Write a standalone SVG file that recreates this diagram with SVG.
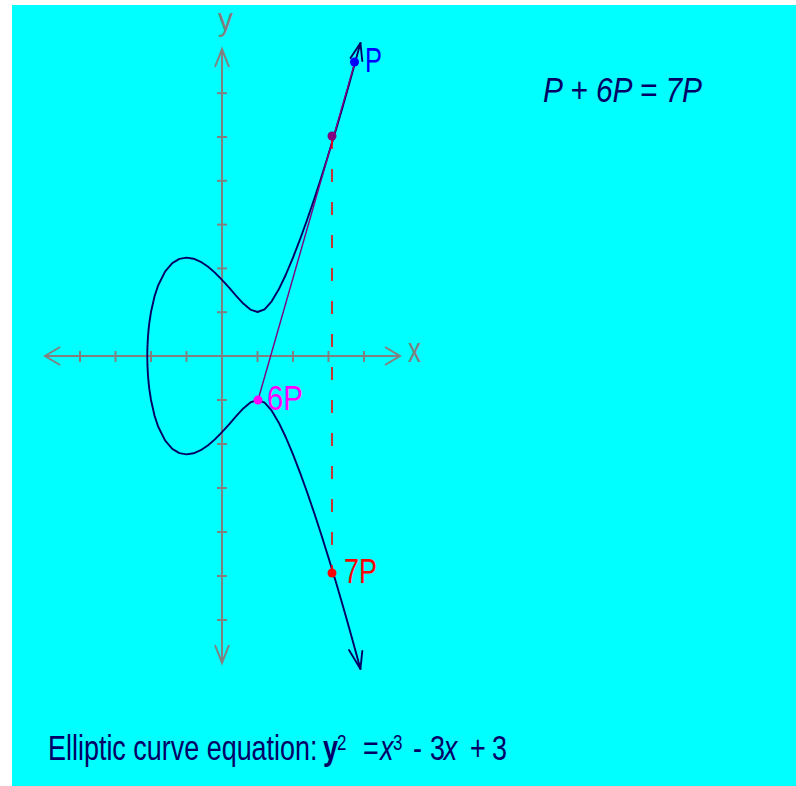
<svg xmlns="http://www.w3.org/2000/svg" width="796" height="786" viewBox="0 0 796 786">
<style>
text{font-family:"Liberation Sans",Arial,sans-serif;}
.ax{stroke:#808080;stroke-width:2;fill:none;}
.tk{stroke:#808080;stroke-width:2;}
.axl{fill:#808080;font-size:31px;}
.eq{fill:#000066;font-size:35px;}
.lbl{font-size:35px;}
.curve{stroke:#000066;stroke-width:1.9;fill:none;stroke-linejoin:round;stroke-linecap:round;}
</style>
<rect x="0" y="0" width="796" height="786" fill="#ffffff"/>
<rect x="12" y="5" width="784" height="781" fill="#00ffff"/>

<g id="axes">
  <line class="ax" x1="45" y1="356" x2="400" y2="356"/>
  <polyline class="ax" points="60,347 45,356 60,365"/>
  <polyline class="ax" points="385,347 400,356 385,365"/>
  <line class="ax" x1="222" y1="49" x2="222" y2="663"/>
  <polyline class="ax" points="215,67 222,49 229,67"/>
  <polyline class="ax" points="215,645 222,663 229,645"/>
  <g class="tk">
    <line x1="80" y1="351" x2="80" y2="362"/>
    <line x1="115.5" y1="351" x2="115.5" y2="362"/>
    <line x1="151" y1="351" x2="151" y2="362"/>
    <line x1="186.5" y1="351" x2="186.5" y2="362"/>
    <line x1="257.5" y1="351" x2="257.5" y2="362"/>
    <line x1="293" y1="351" x2="293" y2="362"/>
    <line x1="328.5" y1="351" x2="328.5" y2="362"/>
    <line x1="364" y1="351" x2="364" y2="362"/>
    <line x1="217" y1="93.2" x2="227" y2="93.2"/>
    <line x1="217" y1="137" x2="227" y2="137"/>
    <line x1="217" y1="180.8" x2="227" y2="180.8"/>
    <line x1="217" y1="224.6" x2="227" y2="224.6"/>
    <line x1="217" y1="268.4" x2="227" y2="268.4"/>
    <line x1="217" y1="312.2" x2="227" y2="312.2"/>
    <line x1="217" y1="400" x2="227" y2="400"/>
    <line x1="217" y1="444" x2="227" y2="444"/>
    <line x1="217" y1="488" x2="227" y2="488"/>
    <line x1="217" y1="532" x2="227" y2="532"/>
    <line x1="217" y1="576" x2="227" y2="576"/>
    <line x1="217" y1="620" x2="227" y2="620"/>
  </g>
  <text class="axl" x="408" y="362" style="font-size:35px" textLength="13" lengthAdjust="spacingAndGlyphs">x</text>
  <text class="axl" x="218" y="30" textLength="15" lengthAdjust="spacingAndGlyphs">y</text>
</g>

<g id="curve">
  <path class="curve" d="M360.45,669 L356.9,656 L349.8,630.3 L342.7,605.3 L335.6,581.1 L328.5,557.7 L321.4,535 L314.3,513.3 L307.2,492.5 L300.1,472.8 L293,454.4 L285.9,437.5 L278.8,422.7 L271.7,410.7 L264.6,402.7 L257.5,400 L250.4,402.4 L243.3,408.4 L236.2,416.1 L229.1,424.3 L222,432.2 L214.9,439.4 L207.8,445.5 L200.7,450.2 L193.6,453.3 L186.5,454.4 L179.4,453.1 L172.3,448.9 L165.2,440.7 L158.1,426.5 L154.55,415.7 L151,400 L149.2,388.2 L148.5,381.7 L147.8,372.6 L147.45,364.7 L147.34,360 L147.3,356 L147.34,352 L147.45,347.3 L147.8,339.4 L148.5,330.3 L149.2,323.8 L151,312 L154.55,296.3 L158.1,285.5 L165.2,271.3 L172.3,263.1 L179.4,258.9 L186.5,257.6 L193.6,258.7 L200.7,261.8 L207.8,266.5 L214.9,272.6 L222,279.8 L229.1,287.7 L236.2,295.9 L243.3,303.6 L250.4,309.6 L257.5,312 L264.6,309.3 L271.7,301.3 L278.8,289.3 L285.9,274.5 L293,257.6 L300.1,239.2 L307.2,219.5 L314.3,198.7 L321.4,177 L328.5,154.3 L335.6,130.9 L342.7,106.7 L349.8,81.7 L356.9,56 L360.45,43"/>
  <polyline class="curve" points="350.5,58 360.45,43 362.3,61"/>
  <polyline class="curve" points="349,650 360.45,669 362.3,651"/>
</g>

<g id="connectors">
  <line x1="258" y1="400" x2="355" y2="62" stroke="#800080" stroke-width="1.4"/>
  <line x1="332" y1="136" x2="332" y2="573" stroke="#ff0000" stroke-width="1.6" stroke-dasharray="13 20"/>
</g>

<g id="node-P">
  <circle cx="354.5" cy="62" r="4.5" fill="#0000ff"/>
  <text class="lbl" x="365" y="72" fill="#0000ff" textLength="17" lengthAdjust="spacingAndGlyphs">P</text>
</g>
<g id="node-R">
  <circle cx="332" cy="136" r="4.5" fill="#800080"/>
</g>
<g id="node-6P">
  <circle cx="258" cy="400" r="4.5" fill="#ff00ff"/>
  <text class="lbl" x="267" y="410" fill="#ff00ff" textLength="36" lengthAdjust="spacingAndGlyphs">6P</text>
</g>
<g id="node-7P">
  <circle cx="332" cy="573" r="4.5" fill="#ff0000"/>
  <text class="lbl" x="344" y="583" fill="#ff0000" textLength="33" lengthAdjust="spacingAndGlyphs">7P</text>
</g>

<g id="sum-label">
  <text class="eq" x="543" y="102" font-style="italic" textLength="159" lengthAdjust="spacingAndGlyphs">P + 6P = 7P</text>
</g>

<g id="equation">
  <text class="eq" transform="translate(48,760) scale(0.77,1)"><tspan x="0" y="0">Elliptic curve equation:</tspan><tspan x="357.1" y="0" font-weight="bold">y</tspan><tspan x="375.3" y="-10" style="font-size:22px">2</tspan><tspan x="409.1" y="0">=</tspan><tspan x="431.2" y="0" font-style="italic">x</tspan><tspan x="448.1" y="-10" style="font-size:22px">3</tspan><tspan x="474" y="0">-</tspan><tspan x="496.1" y="0">3</tspan><tspan x="514" y="0" font-style="italic">x</tspan><tspan x="548.1" y="0">+</tspan><tspan x="576.6" y="0">3</tspan></text>
</g>
</svg>
